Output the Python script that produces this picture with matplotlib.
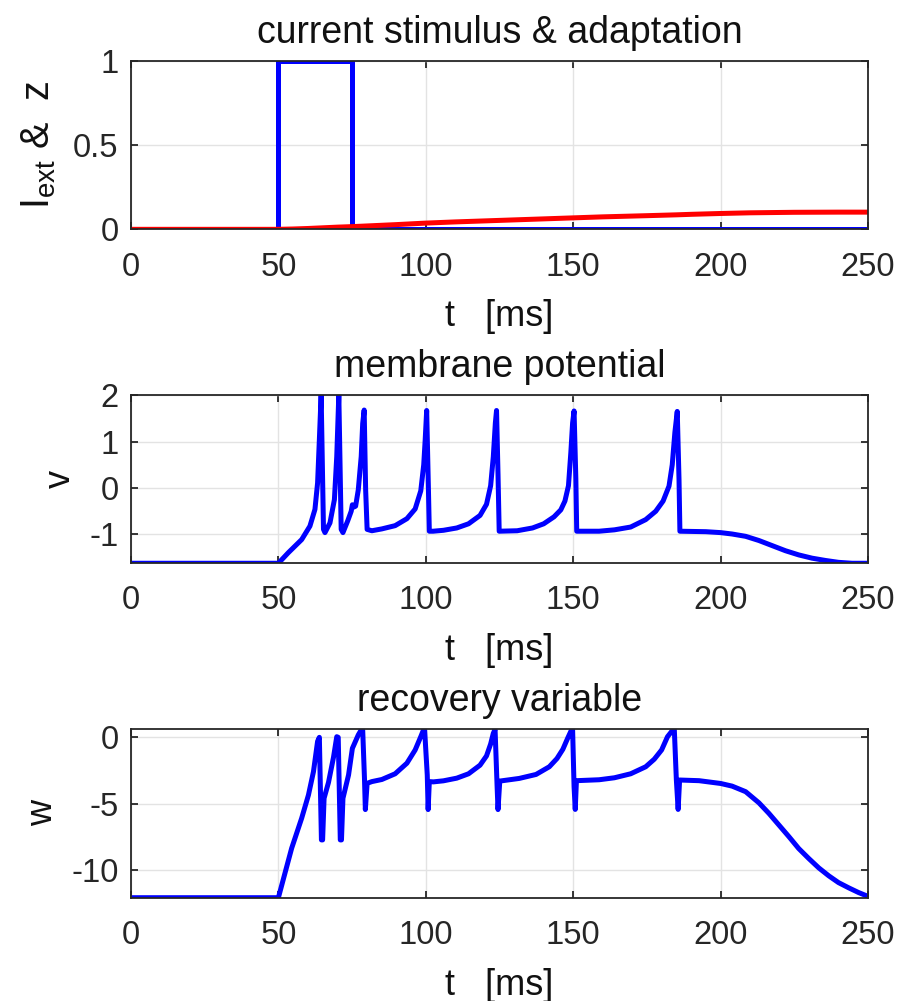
import matplotlib
matplotlib.use('Agg')
import matplotlib.pyplot as plt

# stimulus current (step) and adaptation variable z
stim_t = [0, 50, 50, 75, 75, 250]
stim_i = [0, 0, 1, 1, 0, 0]

z_t = [0, 50, 55, 60, 65, 70, 75, 80, 90, 100, 110, 125, 140, 150, 160, 175, 185, 190, 200, 210, 225, 240, 250]
z_vals = [0, 0, 0.002, 0.005, 0.009, 0.013, 0.016, 0.02, 0.028, 0.037, 0.044, 0.053, 0.062, 0.068, 0.074, 0.081, 0.086, 0.089, 0.094, 0.098, 0.101, 0.102, 0.102]

v_trace = [
    (0, -1.62), (50, -1.62), (53.4, -1.39), (57.9, -1.11), (60.7, -0.82), (62.4, -0.46),
    (63.3, 0.11), (63.9, 1.04), (64.5, 2.01), (65.3, -0.89), (65.8, -0.96),
    (67.5, -0.75), (69.0, -0.25), (69.8, 0.68), (70.5, 2.01), (71.3, -0.89), (71.9, -0.96),
    (73.5, -0.71), (74.7, -0.5), (75.1, -0.36), (75.6, -0.41), (76.2, -0.39), (77.1, -0.04),
    (78.1, 0.68), (78.6, 1.39), (79.1, 1.68), (79.6, -0.04), (80.1, -0.89),
    (81.7, -0.92), (85.1, -0.88), (89.6, -0.81), (93.6, -0.66), (96.4, -0.45),
    (98.3, -0.06), (99.3, 0.5), (99.8, 1.04), (100.3, 1.67), (100.9, -0.04), (101.2, -0.93),
    (102.5, -0.93), (106.0, -0.91), (110.5, -0.86), (114.5, -0.77), (118.4, -0.59),
    (120.6, -0.35), (122.0, 0.05), (122.9, 0.67), (123.6, 1.4), (124.0, 1.67), (124.5, 0.3), (124.9, -0.93),
    (131.0, -0.92), (136.2, -0.86), (140.0, -0.77), (143.5, -0.62), (145.8, -0.47),
    (147.2, -0.28), (148.4, 0.05), (149.2, 0.76), (149.8, 1.4), (150.3, 1.66), (150.9, 0.2), (151.2, -0.93),
    (158.8, -0.93), (164.0, -0.9), (169.5, -0.84), (174.6, -0.68), (178.0, -0.5),
    (180.5, -0.28), (182.5, 0.04), (183.6, 0.5), (184.5, 1.2), (185.3, 1.65), (185.9, 0.18), (186.2, -0.93),
    (195.0, -0.94), (200, -0.96), (203.9, -0.99), (208.5, -1.04), (213, -1.13),
    (217.5, -1.24), (222, -1.35), (226.5, -1.44), (231, -1.51), (235.6, -1.56),
    (240, -1.6), (244.6, -1.62), (250, -1.62),
]

w_trace = [
    (0, -12.1), (50, -12.1), (54.5, -8.37), (57.9, -6.1), (60.2, -4.35), (61.9, -2.59),
    (63.3, -0.3), (63.9, 0.0), (64.6, -7.74), (65.0, -7.74), (65.5, -4.6), (67.0, -3.4),
    (68.7, -1.5), (69.8, 0.05), (70.3, 0.0), (71.0, -7.74), (71.4, -7.74), (71.9, -4.6),
    (73.8, -2.84), (75.1, -0.83), (77.1, 0.18), (78.2, 0.6), (78.6, 0.55), (79.2, -3.09),
    (79.5, -5.45), (80.1, -3.47), (81.7, -3.34), (85.1, -3.18), (89.6, -2.75),
    (93.6, -1.95), (96.4, -0.95), (98.3, 0.05), (99.2, 0.55), (99.6, 0.6), (100.5, -2.84),
    (100.8, -5.45), (101.2, -3.34), (102.6, -3.36), (106.0, -3.28), (110.5, -3.08),
    (114.5, -2.75), (118.4, -2.1), (120.6, -1.4), (122.0, -0.5), (122.9, 0.3), (123.5, 0.6),
    (124.2, -3.74), (124.5, -5.45), (125.1, -3.3), (131.7, -3.1), (137.4, -2.8),
    (141.9, -2.22), (144.5, -1.6), (146.5, -0.9), (148.1, -0.08), (149.3, 0.5), (149.8, 0.62),
    (150.3, -3.73), (150.7, -5.44), (151.1, -3.27), (158.8, -3.2), (164.0, -3.05),
    (169.5, -2.75), (174.6, -2.22), (177.5, -1.65), (180.0, -0.95), (182.0, 0.05),
    (183.6, 0.5), (184.3, 0.62), (185.0, -3.22), (185.6, -5.44), (186.1, -3.22),
    (192.7, -3.27), (200, -3.48), (203.9, -3.68), (208.5, -4.1), (213.0, -4.94),
    (216.4, -5.74), (219.8, -6.62), (223.2, -7.5), (226.5, -8.39), (229.9, -9.14),
    (233.3, -9.85), (236.7, -10.45), (240.0, -10.96), (243.5, -11.36), (246.8, -11.71),
    (250, -12.0),
]

x_ticks = [0, 50, 100, 150, 200, 250]

plt.rcParams['font.family'] = ['Liberation Sans', 'DejaVu Sans']
plt.rcParams['font.size'] = 23.5
plt.rcParams['axes.unicode_minus'] = False
plt.rcParams['mathtext.fontset'] = 'custom'
plt.rcParams['mathtext.rm'] = 'Liberation Sans'

fig = plt.figure(figsize=(8.99, 10.01), dpi=100)
left, width, height = 0.1457, 0.8198, 0.1684
ax1 = fig.add_axes([left, 0.7709, width, height])
ax2 = fig.add_axes([left, 0.4373, width, height])
ax3 = fig.add_axes([left, 0.1032, width, height])

line_kw = dict(lw=3.6, solid_joinstyle='round', solid_capstyle='butt')

ax1.plot(stim_t, stim_i, color='blue', **line_kw)
ax1.plot(z_t, z_vals, color='red', **line_kw)
ax1.set_ylim(0, 1)
ax1.set_yticks([0, 0.5, 1])
ax1.set_yticklabels(['0', '0.5', '1'])
ax1.set_title('current stimulus & adaptation', pad=13, fontsize=27)
ax1.set_ylabel(r'$\mathregular{I_{ext}}$ &  z', fontsize=28.5)
ax1.yaxis.set_label_coords(-0.099, 0.5)

vt = [p[0] for p in v_trace]
vv = [p[1] for p in v_trace]
ax2.plot(vt, vv, color='blue', **line_kw)
ax2.set_ylim(min(vv), max(vv))
ax2.set_yticks([-1, 0, 1, 2])
ax2.set_title('membrane potential', pad=13, fontsize=27)
ax2.set_ylabel('v', fontsize=26)
ax2.yaxis.set_label_coords(-0.072, 0.5)

wt = [p[0] for p in w_trace]
wv = [p[1] for p in w_trace]
ax3.plot(wt, wv, color='blue', **line_kw)
ax3.set_ylim(min(wv), max(wv))
ax3.set_yticks([-10, -5, 0])
ax3.set_title('recovery variable', pad=13, fontsize=27)
ax3.set_ylabel('w', fontsize=26)
ax3.yaxis.set_label_coords(-0.096, 0.5)

for ax in (ax1, ax2, ax3):
    ax.set_xlim(0, 250)
    ax.set_xticks(x_ticks)
    ax.set_xlabel('t   [ms]', fontsize=26, labelpad=12)
    ax.grid(True, color='#e3e3e3', lw=1)
    ax.set_axisbelow(True)
    ax.tick_params(direction='in', length=5, width=1.3, top=True, right=True,
                   colors='#262626', labelcolor='#262626')
    ax.tick_params(axis='x', pad=16)
    ax.tick_params(axis='y', pad=9)
    for s in ax.spines.values():
        s.set_linewidth(1.3)
        s.set_color('#262626')
    for lbl in (ax.title, ax.xaxis.label, ax.yaxis.label):
        lbl.set_color('#111111')

fig.savefig('out.png', dpi=100, facecolor='white')
